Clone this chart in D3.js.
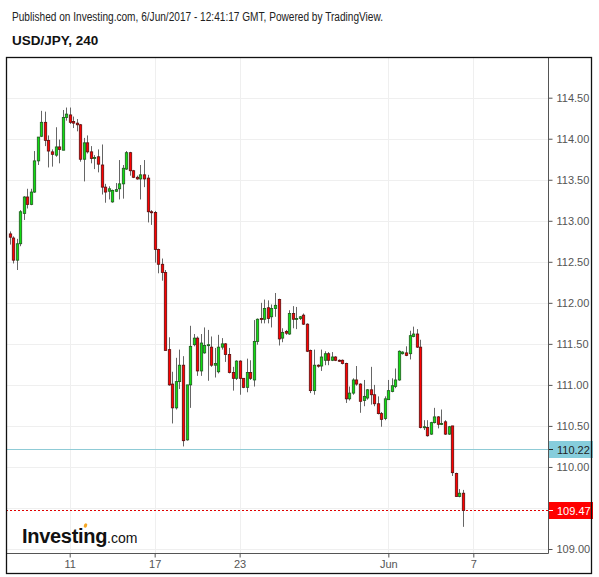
<!DOCTYPE html>
<html><head><meta charset="utf-8">
<script src="https://d3js.org/d3.v7.min.js"></script>
<style>body{margin:0;background:#fff}svg{display:block}text{font-family:"Liberation Sans",Arial,sans-serif}</style>
</head><body><div id="chart"></div>
<script>
const opens=[112.84,112.79,112.52,112.72,113.09,113.29,113.20,113.35,113.73,114.03,114.20,113.98,113.84,113.80,113.90,113.86,114.26,114.29,114.21,114.19,114.17,113.75,113.95,113.84,113.76,113.78,113.68,113.41,113.36,113.23,113.36,113.39,113.45,113.63,113.83,113.61,113.53,113.51,113.56,113.52,113.11,113.10,112.65,112.47,112.37,111.43,111.01,110.72,111.04,111.24,110.33,111.00,111.49,111.57,111.17,111.39,111.48,111.46,111.24,111.16,111.46,111.50,111.37,111.15,111.08,111.29,111.08,110.97,111.15,111.06,111.53,111.81,111.80,111.94,111.83,111.93,112.04,111.57,111.65,111.62,111.87,111.80,111.81,111.85,111.74,111.42,110.93,111.24,111.23,111.30,111.38,111.30,111.34,111.30,111.30,111.26,110.83,110.90,111.06,111.01,110.81,110.84,110.94,110.88,110.77,110.65,110.59,110.82,110.92,110.98,111.06,111.38,111.39,111.38,111.59,111.62,111.46,110.48,110.48,110.40,110.54,110.61,110.52,110.55,110.40,110.50,109.92,109.64,109.68];
const highs=[112.87,112.81,112.78,113.13,113.30,113.39,113.39,113.85,114.02,114.34,114.33,114.04,113.87,114.14,113.99,114.35,114.38,114.38,114.27,114.24,114.18,114.01,114.04,113.91,113.80,113.87,113.93,113.45,113.42,113.38,113.46,113.74,113.68,113.85,113.84,113.62,113.55,113.68,113.74,113.56,113.13,113.12,112.66,112.54,112.40,111.58,111.16,111.33,111.43,111.35,111.00,111.72,111.62,111.59,111.62,111.70,111.67,111.59,111.45,111.61,111.57,111.51,111.45,111.22,111.30,111.30,111.08,111.32,111.30,111.79,111.81,112.00,112.04,112.03,111.98,112.12,112.05,111.69,111.67,111.91,111.96,111.95,111.84,111.87,111.75,111.43,111.43,111.25,111.43,111.41,111.40,111.40,111.35,111.31,111.31,111.27,110.98,111.08,111.23,111.02,111.06,110.95,111.22,111.00,110.86,110.67,110.86,111.06,111.08,111.20,111.42,111.41,111.47,111.66,111.71,111.68,111.55,110.57,110.57,110.55,110.72,110.62,110.70,110.57,110.50,110.50,109.93,109.73,109.72];
const lows=[112.71,112.48,112.40,112.69,113.01,113.15,113.19,113.34,113.68,114.02,113.91,113.65,113.66,113.78,113.70,113.86,114.22,114.18,114.13,114.09,113.72,113.48,113.82,113.70,113.63,113.59,113.32,113.22,113.26,113.22,113.35,113.26,113.27,113.62,113.55,113.52,113.50,113.26,113.41,112.98,112.95,112.49,112.36,112.27,111.42,110.99,110.53,110.70,110.95,110.25,110.32,110.72,111.47,111.11,111.11,111.38,111.05,111.22,111.09,111.14,111.43,111.28,111.14,110.93,111.06,110.88,110.96,110.91,111.06,110.98,111.49,111.75,111.75,111.75,111.70,111.83,111.48,111.52,111.61,111.61,111.69,111.68,111.79,111.73,111.40,110.90,110.88,111.21,111.17,111.24,111.24,111.29,111.29,111.28,111.25,110.78,110.81,110.88,110.99,110.66,110.74,110.82,110.76,110.74,110.64,110.49,110.57,110.82,110.91,110.96,111.05,111.37,111.35,111.31,111.58,111.45,110.47,110.45,110.37,110.39,110.53,110.47,110.51,110.39,110.39,109.89,109.64,109.63,109.27];
const closes=[112.80,112.52,112.72,113.11,113.29,113.20,113.35,113.73,114.02,114.20,113.98,113.85,113.81,113.90,113.87,114.26,114.30,114.20,114.19,114.17,113.75,113.95,113.84,113.76,113.77,113.69,113.41,113.35,113.39,113.37,113.38,113.45,113.64,113.83,113.61,113.53,113.51,113.56,113.51,113.11,113.10,112.65,112.47,112.37,111.42,111.00,110.72,111.04,111.24,110.32,111.00,111.47,111.57,111.17,111.51,111.48,111.49,111.24,111.26,111.46,111.50,111.37,111.15,111.08,111.29,111.08,110.97,111.15,111.08,111.53,111.80,111.80,111.93,111.81,111.93,111.97,111.56,111.64,111.63,111.87,111.80,111.81,111.83,111.74,111.41,110.93,111.24,111.23,111.34,111.38,111.30,111.34,111.30,111.29,111.26,110.83,110.90,111.06,111.01,110.80,110.86,110.94,110.88,110.77,110.65,110.58,110.83,110.93,110.99,111.06,111.41,111.40,111.36,111.60,111.62,111.46,110.48,110.49,110.38,110.54,110.61,110.52,110.53,110.40,110.49,109.93,109.64,109.68,109.47];
const yTicks=[109.00,109.50,110.00,110.50,111.00,111.50,112.00,112.50,113.00,113.50,114.00,114.50];
const xTickIndex=[17,41,65,107,131];
const xTickLabels=["11","17","23","Jun","7"];
const lastPrice=109.47;
const markPrice=110.22;
const titleText="Published on Investing.com, 6/Jun/2017 - 12:41:17 GMT, Powered by TradingView.";
const symbolText="USD/JPY, 240";

const W=599,H=577;
const L=6,R=548,T=57,B=553;
const svg=d3.select("#chart").append("svg").attr("width",W).attr("height",H);
svg.append("rect").attr("width",W).attr("height",H).attr("fill","#fff");

const x=d3.scaleLinear().domain([-0.99,152.1]).range([L,R]);
const y=d3.scaleLinear().domain([109,114.5]).range([549,97.7]);

// title
svg.append("text").attr("x",12).attr("y",21).attr("font-size",12).attr("fill","#222")
  .attr("textLength",371).attr("lengthAdjust","spacingAndGlyphs").text(titleText);
svg.append("text").attr("x",12).attr("y",45).attr("font-size",13.5).attr("font-weight","bold").attr("fill","#111").text(symbolText);

// grid
const g=svg.append("g");
g.selectAll(".hg").data(yTicks).join("line").attr("x1",L).attr("x2",R)
  .attr("y1",d=>Math.round(y(d))+0.5).attr("y2",d=>Math.round(y(d))+0.5).attr("stroke","#efefef");
g.selectAll(".vg").data(xTickIndex).join("line").attr("y1",T).attr("y2",B)
  .attr("x1",d=>Math.round(x(d))+0.5).attr("x2",d=>Math.round(x(d))+0.5).attr("stroke","#efefef");

// logo
const logo=svg.append("text").attr("x",22).attr("y",543);
logo.append("tspan").attr("font-size",20).attr("font-weight","bold").attr("fill","#111").attr("letter-spacing",-0.3).text("Investing");
logo.append("tspan").attr("font-size",14).attr("fill","#111").text(".com");
svg.append("ellipse").attr("cx",85.5).attr("cy",525.5).attr("rx",1.6).attr("ry",2.3).attr("transform","rotate(25,85.5,525.5)").attr("fill","#f5a623");

// mark line 110.22
svg.append("line").attr("x1",L).attr("x2",R).attr("y1",Math.round(y(markPrice))+0.5).attr("y2",Math.round(y(markPrice))+0.5)
  .attr("stroke","#8fcbd6").attr("stroke-width",1);
// last price dashed line
svg.append("line").attr("x1",L).attr("x2",R).attr("y1",Math.round(y(lastPrice))+0.5).attr("y2",Math.round(y(lastPrice))+0.5)
  .attr("stroke","#e00000").attr("stroke-width",1).attr("stroke-dasharray","2,2");

// candles
const data=opens.map((o,i)=>({i,o,h:highs[i],l:lows[i],c:closes[i]}));
const cg=svg.append("g");
cg.selectAll(".wick").data(data).join("line")
  .attr("x1",d=>Math.round(x(d.i))+0.5).attr("x2",d=>Math.round(x(d.i))+0.5)
  .attr("y1",d=>y(d.h)).attr("y2",d=>y(d.l)).attr("stroke","#666").attr("stroke-width",1);
cg.selectAll(".body").data(data).join("rect")
  .attr("x",d=>Math.round(x(d.i))-0.7).attr("width",2.4)
  .attr("y",d=>y(Math.max(d.o,d.c)))
  .attr("height",d=>Math.max(1,Math.abs(y(d.o)-y(d.c))))
  .attr("fill",d=>d.c>=d.o?"#11dd11":"#ff0000")
  .attr("stroke",d=>d.c>=d.o?"#1e5a1e":"#5a0f0f").attr("stroke-width",0.8);

// y axis
const ya=svg.append("g").attr("transform",`translate(${R+0.5},0)`)
  .call(d3.axisRight(y).tickValues(yTicks).tickFormat(d3.format(".2f")).tickSize(4).tickPadding(4));
ya.select(".domain").remove();
ya.selectAll("line").attr("stroke","#555");
ya.selectAll("text").attr("font-size",11).attr("fill","#555").attr("font-family","'Liberation Sans',Arial,sans-serif");
ya.selectAll(".tick").filter(d=>d===109.5).remove();

// x axis
const xa=svg.append("g").attr("transform",`translate(0,${B+0.5})`)
  .call(d3.axisBottom(x).tickValues(xTickIndex).tickFormat((d,i)=>xTickLabels[i]).tickSize(4).tickPadding(3));
xa.select(".domain").remove();
xa.selectAll("line").attr("stroke","#555");
xa.selectAll("text").attr("font-size",11).attr("fill","#555").attr("font-family","'Liberation Sans',Arial,sans-serif");

svg.append("line").attr("x1",R+0.5).attr("x2",R+0.5).attr("y1",T).attr("y2",B+0.5).attr("stroke","#555");
svg.append("line").attr("x1",L).attr("x2",R+0.5).attr("y1",B+0.5).attr("y2",B+0.5).attr("stroke","#555");

// price labels
function priceLabel(v,bg,fg){
  const yy=Math.round(y(v))+0.5;
  svg.append("rect").attr("x",R+1).attr("y",yy-8.5).attr("width",44).attr("height",17).attr("fill",bg);
  svg.append("line").attr("x1",R+1).attr("x2",R+5).attr("y1",yy).attr("y2",yy).attr("stroke",fg);
  svg.append("text").attr("x",R+9).attr("y",yy+4).attr("font-size",11).attr("fill",fg).text(d3.format(".2f")(v));
}
priceLabel(markPrice,"#86cddc","#222");
priceLabel(lastPrice,"#ff0000","#fff");

// border
svg.append("rect").attr("x",L+0.5).attr("y",T+0.5).attr("width",592-L-1).attr("height",574-T-1)
  .attr("fill","none").attr("stroke","#111").attr("stroke-width",1.3);
</script></body></html>
